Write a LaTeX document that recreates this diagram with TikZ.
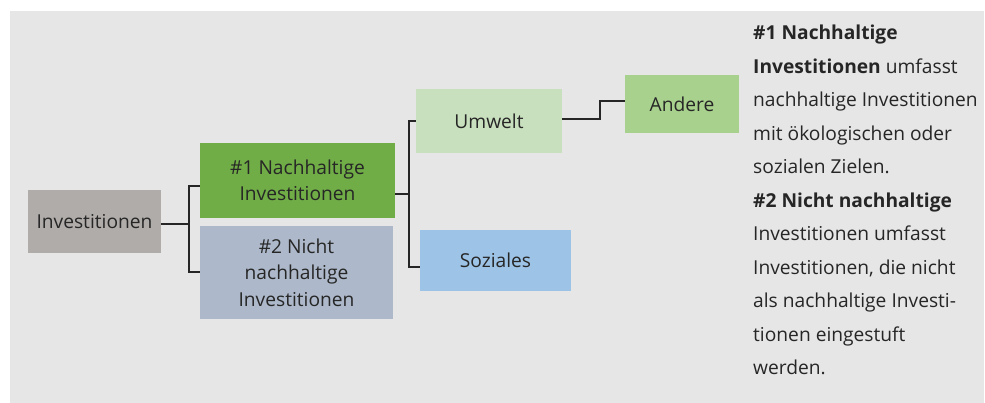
\documentclass[tikz,border=0pt]{standalone}
\usepackage{fontspec}
\setmainfont{Open Sans}
\begin{document}
\begin{tikzpicture}[x=1pt,y=-1pt,
  box/.style={draw=none,inner sep=0pt,align=center,font=\fontsize{19.2}{26.5}\selectfont,text=txt},
  conn/.style={draw=black!85,line width=1.3pt}]
\definecolor{bg}{HTML}{E6E6E6}
\definecolor{txt}{HTML}{262626}
\definecolor{cinv}{HTML}{B0ACAA}
\definecolor{cnach}{HTML}{70AD47}
\definecolor{cnicht}{HTML}{ADB9CA}
\definecolor{cumw}{HTML}{C9E0BE}
\definecolor{csoz}{HTML}{9DC3E6}
\definecolor{cand}{HTML}{A9D18E}
\useasboundingbox (0,0) rectangle (985,403);
\fill[white] (0,0) rectangle (985,403);
\fill[bg] (10,11) rectangle (984,403);
% nodes
\node[box,fill=cinv,minimum width=133pt,minimum height=63pt] (inv) at (94.5,221.5) {Investitionen};
\node[box,fill=cnach,minimum width=195pt,minimum height=75pt] (nach) at (297.5,180.5) {\#1 Nachhaltige\\Investitionen};
\node[box,fill=cnicht,minimum width=193pt,minimum height=93pt] (nicht) at (296.5,272.5) {\#2 Nicht\\nachhaltige\\Investitionen};
\node[box,fill=cumw,minimum width=146pt,minimum height=64pt] (umw) at (489,121) {Umwelt};
\node[box,fill=csoz,minimum width=151pt,minimum height=61pt] (soz) at (495.5,260.5) {Soziales};
\node[box,fill=cand,minimum width=114pt,minimum height=58pt] (and) at (682,104) {Andere};
% connectors
\coordinate (b1) at (189,224);
\coordinate (b2) at (409,194);
\draw[conn] (inv.east |- b1) -- (b1);
\draw[conn] (nach.west |- 0,186) -| (b1) |- (nicht.west |- 0,272);
\draw[conn] (nach.east |- b2) -- (b2);
\draw[conn] (umw.west |- 0,121) -| (b2) |- (soz.west |- 0,267);
\draw[conn] (umw.east |- 0,119) -- (600,119) |- (and.west |- 0,101);
% description
\node[anchor=north west,inner sep=0pt,align=left,text=txt,font=\fontsize{19.2}{33.5}\selectfont] (desc) at (753,25)
{\textbf{\#1 Nachhaltige}\\
\textbf{Investitionen} umfasst\\
nachhaltige Investitionen\\
mit ökologischen oder\\
sozialen Zielen.\\
\textbf{\#2 Nicht nachhaltige}\\
Investitionen umfasst\\
Investitionen, die nicht\\
als nachhaltige Investi-\\
tionen eingestuft\\
werden.};
\end{tikzpicture}
\end{document}
